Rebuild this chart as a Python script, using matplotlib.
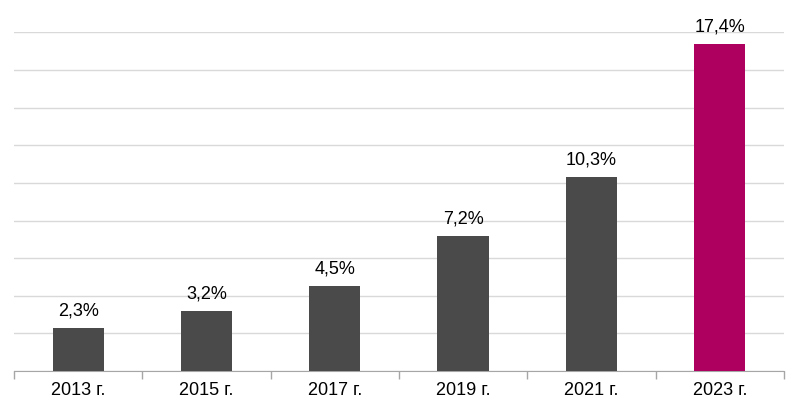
import matplotlib
matplotlib.use('Agg')
import matplotlib.pyplot as plt
import numpy as np

# data
years = ['2013 г.', '2015 г.', '2017 г.', '2019 г.', '2021 г.', '2023 г.']
values = [2.3, 3.2, 4.5, 7.2, 10.3, 17.4]
labels = ['2,3%', '3,2%', '4,5%', '7,2%', '10,3%', '17,4%']
colors = ['#4a4a4a', '#4a4a4a', '#4a4a4a', '#4a4a4a', '#4a4a4a', '#ad005f']

plt.rcParams['font.family'] = ['Liberation Sans', 'DejaVu Sans']

fig = plt.figure(figsize=(8.02, 4.11), dpi=100)
ax = fig.add_axes([0.0175, 0.0973, 0.96, 0.8237])

x = np.arange(len(years))
ax.bar(x, values, width=0.4, color=colors, zorder=3)
for xi, v, lab in zip(x, values, labels):
    ax.text(xi, v + 0.45, lab, ha='center', va='bottom', fontsize=13, color='#000000')

ax.set_xlim(-0.5, len(years) - 0.5)
ax.set_ylim(0, 18)
ax.set_yticks(np.arange(0, 19, 2))
ax.yaxis.grid(True, color='#d9d9d9', linewidth=1, zorder=0)
ax.tick_params(axis='y', left=False, labelleft=False)

# category boundary ticks and centered labels
ax.set_xticks(np.arange(-0.5, len(years), 1.0))
ax.set_xticklabels([])
ax.set_xticks(x, minor=True)
ax.set_xticklabels(years, minor=True, fontsize=13)
ax.tick_params(axis='x', which='major', length=6, color='#a6a6a6', width=1)
ax.tick_params(axis='x', which='minor', length=0, pad=8)

for s in ['top', 'right', 'left']:
    ax.spines[s].set_visible(False)
ax.spines['bottom'].set_color('#a6a6a6')

fig.savefig('out.png', dpi=100)
